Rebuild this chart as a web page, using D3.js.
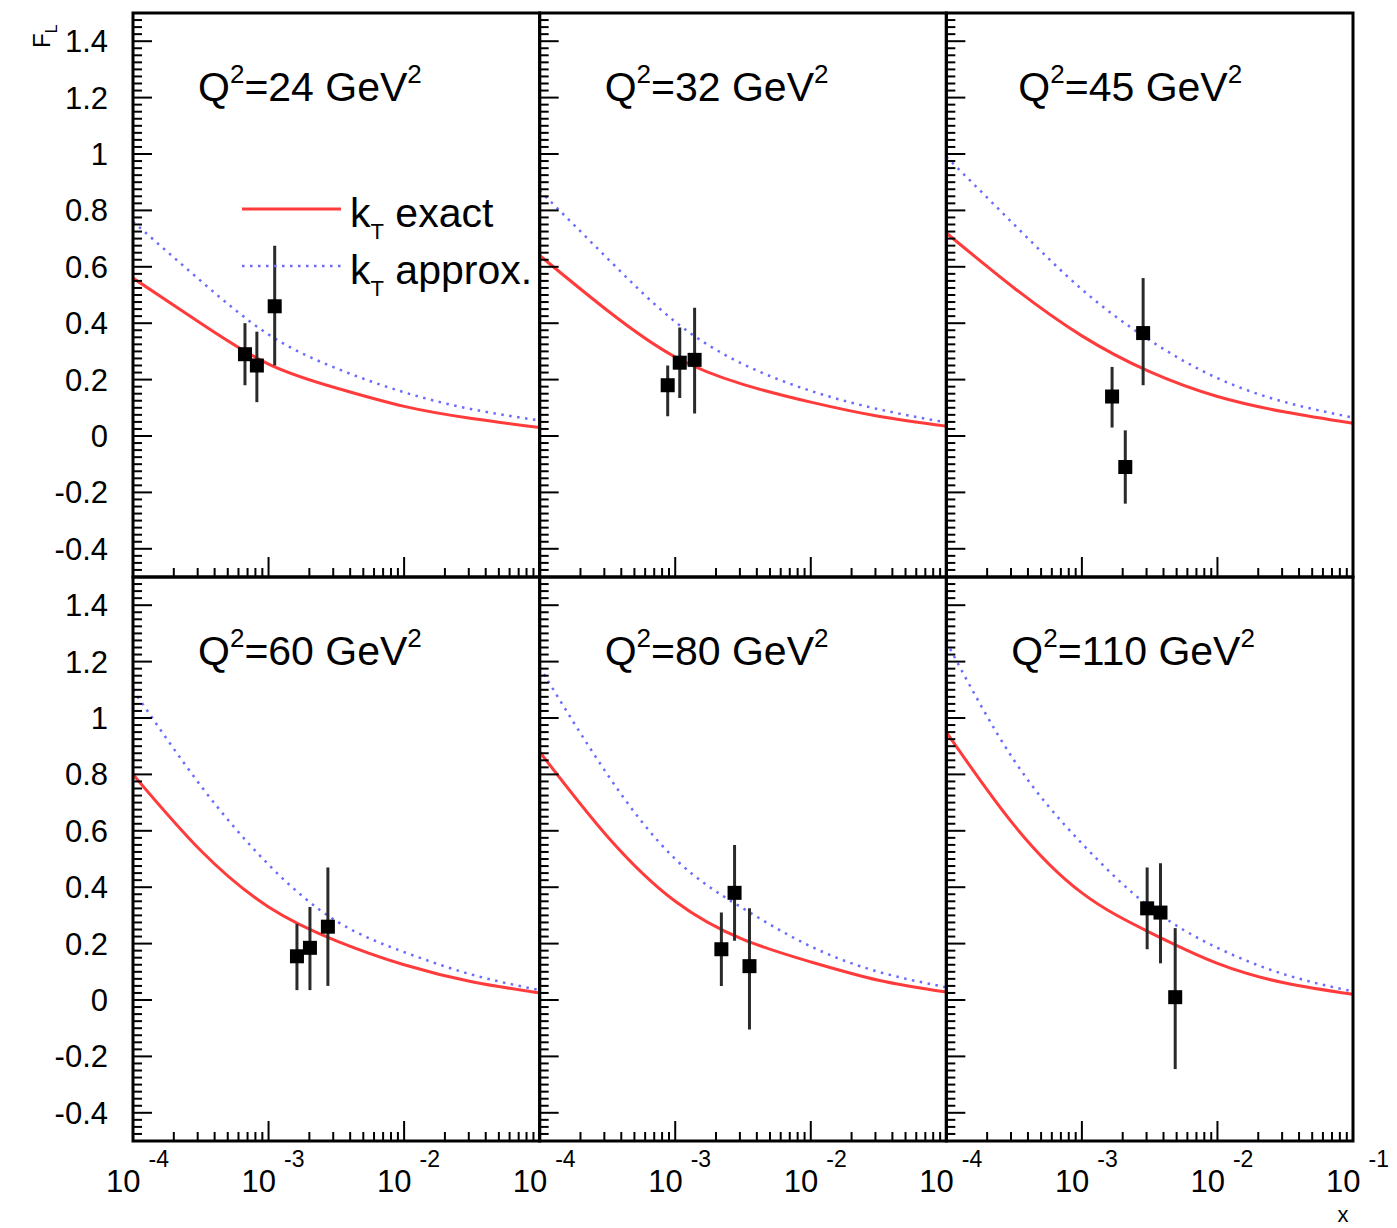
<!DOCTYPE html>
<html>
<head>
<meta charset="utf-8">
<script src="https://cdn.jsdelivr.net/npm/d3@7"></script>
<style>
  body { margin: 0; background: #fff; }
  text { font-family: "Liberation Sans", Arial, sans-serif; }
</style>
</head>
<body>
<div id="chart"></div>
<script>
// Q^2 of each pad (GeV^2)
const q2Values = [24, 32, 45, 60, 80, 110];

const curveX = [1e-4, 3.16e-4, 1e-3, 3.16e-3, 1e-2, 3.16e-2, 1e-1];

// kT exact (red solid)
const exactFL = [
  [0.56, 0.40, 0.255, 0.17, 0.105, 0.062, 0.03],
  [0.64, 0.445, 0.28, 0.183, 0.12, 0.07, 0.035],
  [0.72, 0.525, 0.355, 0.228, 0.14, 0.085, 0.045],
  [0.80, 0.53, 0.33, 0.21, 0.125, 0.065, 0.025],
  [0.88, 0.58, 0.35, 0.215, 0.135, 0.07, 0.028],
  [0.95, 0.62, 0.38, 0.24, 0.13, 0.06, 0.02]
];

// kT approx. (blue dotted)
const approxFL = [
  [0.76, 0.55, 0.36, 0.24, 0.155, 0.095, 0.055],
  [0.87, 0.63, 0.405, 0.255, 0.16, 0.095, 0.048],
  [0.99, 0.75, 0.52, 0.34, 0.205, 0.12, 0.065],
  [1.10, 0.76, 0.48, 0.28, 0.17, 0.09, 0.035],
  [1.18, 0.80, 0.50, 0.325, 0.19, 0.10, 0.045],
  [1.27, 0.85, 0.555, 0.33, 0.185, 0.09, 0.03]
];

// measured points
const dataX = [
  [6.7e-4, 8.2e-4, 1.11e-3],
  [8.8e-4, 1.08e-3, 1.39e-3],
  [1.67e-3, 2.09e-3, 2.83e-3],
  [1.62e-3, 2.02e-3, 2.74e-3],
  [2.19e-3, 2.74e-3, 3.53e-3],
  [3.03e-3, 3.8e-3, 4.88e-3]
];
const dataFL = [
  [0.29, 0.25, 0.46],
  [0.18, 0.26, 0.27],
  [0.14, -0.11, 0.365],
  [0.155, 0.185, 0.26],
  [0.18, 0.38, 0.12],
  [0.325, 0.31, 0.01]
];
const dataLo = [
  [0.18, 0.12, 0.25],
  [0.07, 0.135, 0.08],
  [0.03, -0.24, 0.18],
  [0.035, 0.035, 0.05],
  [0.05, 0.21, -0.105],
  [0.18, 0.13, -0.245]
];
const dataHi = [
  [0.40, 0.37, 0.675],
  [0.25, 0.385, 0.455],
  [0.245, 0.02, 0.56],
  [0.27, 0.33, 0.47],
  [0.31, 0.55, 0.325],
  [0.47, 0.485, 0.255]
];

const yMajor = [-0.4, -0.2, 0, 0.2, 0.4, 0.6, 0.8, 1, 1.2, 1.4];
const yLabels = ["-0.4", "-0.2", "0", "0.2", "0.4", "0.6", "0.8", "1", "1.2", "1.4"];
const xMajor = [1e-4, 1e-3, 1e-2, 1e-1];
const xExp = ["-4", "-3", "-2", "-1"];

const width = 1397, height = 1228;
const padLeft = 133, padTop = 13, padRight = 1353, padBottom = 1141;
const pw = (padRight - padLeft) / 3, ph = (padBottom - padTop) / 2;

const svg = d3.select("#chart").append("svg")
  .attr("width", width)
  .attr("height", height);

svg.append("rect").attr("width", width).attr("height", height).attr("fill", "#fff");

const xScale = d3.scaleLog().domain([1e-4, 1e-1]).range([0, pw]);
const yScale = d3.scaleLinear().domain([-0.5, 1.5]).range([ph, 0]);

const lineGen = d3.line()
  .x(d => xScale(d[0]))
  .y(d => yScale(d[1]))
  .curve(d3.curveNatural);

const yMinor = d3.range(-20, 61).map(i => i * 0.025);
const xMinor = [];
[1e-4, 1e-3, 1e-2].forEach(dec => d3.range(2, 10).forEach(m => xMinor.push(dec * m)));

svg.append("defs").append("clipPath").attr("id", "pad")
  .append("rect").attr("width", pw).attr("height", ph);

q2Values.forEach((q2, i) => {
  const col = i % 3, row = Math.floor(i / 3);
  const g = svg.append("g")
    .attr("transform", `translate(${padLeft + col * pw},${padTop + row * ph})`);

  // curves
  const plot = g.append("g").attr("clip-path", "url(#pad)");
  plot.append("path")
    .datum(curveX.map((x, j) => [x, approxFL[i][j]]))
    .attr("d", lineGen)
    .attr("fill", "none")
    .attr("stroke", "#6b6bff")
    .attr("stroke-width", 2.5)
    .attr("stroke-dasharray", "2.5,5.5");
  plot.append("path")
    .datum(curveX.map((x, j) => [x, exactFL[i][j]]))
    .attr("d", lineGen)
    .attr("fill", "none")
    .attr("stroke", "#ff3b3b")
    .attr("stroke-width", 3);

  // data points
  const pts = dataX[i].map((x, j) => ({ x, y: dataFL[i][j], lo: dataLo[i][j], hi: dataHi[i][j] }));
  plot.selectAll("line.err").data(pts).join("line")
    .attr("class", "err")
    .attr("x1", d => xScale(d.x)).attr("x2", d => xScale(d.x))
    .attr("y1", d => yScale(d.lo)).attr("y2", d => yScale(d.hi))
    .attr("stroke", "#2a2a2a").attr("stroke-width", 3);
  plot.selectAll("rect.pt").data(pts).join("rect")
    .attr("class", "pt")
    .attr("x", d => xScale(d.x) - 7).attr("y", d => yScale(d.y) - 7)
    .attr("width", 14).attr("height", 14)
    .attr("fill", "#000");

  // y ticks on left edge
  g.selectAll("line.ymin").data(yMinor).join("line")
    .attr("class", "ymin")
    .attr("x1", 0).attr("x2", d => yMajor.some(v => Math.abs(v - d) < 1e-6) ? 19 : 9)
    .attr("y1", d => yScale(d)).attr("y2", d => yScale(d))
    .attr("stroke", "#000").attr("stroke-width", 2);

  // x ticks on bottom edge
  g.selectAll("line.xmaj").data(xMajor).join("line")
    .attr("class", "xmaj")
    .attr("x1", d => xScale(d)).attr("x2", d => xScale(d))
    .attr("y1", ph).attr("y2", ph - 20)
    .attr("stroke", "#000").attr("stroke-width", 2);
  g.selectAll("line.xmin").data(xMinor).join("line")
    .attr("class", "xmin")
    .attr("x1", d => xScale(d)).attr("x2", d => xScale(d))
    .attr("y1", ph).attr("y2", ph - 9)
    .attr("stroke", "#000").attr("stroke-width", 2);

  // frame
  g.append("rect")
    .attr("width", pw).attr("height", ph)
    .attr("fill", "none").attr("stroke", "#000").attr("stroke-width", 3);

  // y labels on first column
  if (col === 0) {
    g.selectAll("text.ylab").data(yMajor).join("text")
      .attr("class", "ylab")
      .attr("x", -25).attr("y", d => yScale(d) + 11)
      .attr("text-anchor", "end")
      .attr("font-size", 31)
      .text((d, k) => yLabels[k]);
  }

  // x labels on bottom row
  if (row === 1) {
    const ex = col === 2 ? [0, 1, 2, 3] : [0, 1, 2];
    ex.forEach(k => {
      const t = g.append("text")
        .attr("x", xScale(xMajor[k]) - 27).attr("y", ph + 51)
        .attr("font-size", 31);
      t.append("tspan").text("10");
      t.append("tspan").attr("dx", 8).attr("dy", -25).attr("font-size", 23).text(xExp[k]);
    });
  }

  // pad title
  const title = g.append("text")
    .attr("x", col === 2 && row === 0 ? 72 : 65).attr("y", 88)
    .attr("font-size", 41);
  title.append("tspan").text("Q");
  title.append("tspan").attr("dy", -18).attr("font-size", 26).text("2");
  title.append("tspan").attr("dy", 18).text(`=${q2} GeV`);
  title.append("tspan").attr("dy", -18).attr("font-size", 26).text("2");

  // legend in first pad
  if (i === 0) {
    const leg = [
      { y: 196, label: "exact", color: "#ff3b3b", dash: null, w: 3 },
      { y: 253, label: "approx.", color: "#6b6bff", dash: "2.5,5.5", w: 2.5 }
    ];
    leg.forEach(l => {
      g.append("line")
        .attr("x1", 109).attr("x2", 208)
        .attr("y1", l.y).attr("y2", l.y)
        .attr("stroke", l.color).attr("stroke-width", l.w)
        .attr("stroke-dasharray", l.dash);
      const t = g.append("text")
        .attr("x", 217).attr("y", l.y + 18)
        .attr("font-size", 41);
      t.append("tspan").text("k");
      t.append("tspan").attr("dy", 12).attr("font-size", 22).text("T");
      t.append("tspan").attr("dy", -12).text(" " + l.label);
    });
  }
});

// axis titles
svg.append("text")
  .attr("transform", "translate(50,48) rotate(-90)")
  .attr("font-size", 24)
  .text("F")
  .append("tspan").attr("dy", 7).attr("font-size", 16).text("L");

svg.append("text")
  .attr("x", 1343).attr("y", 1222)
  .attr("text-anchor", "middle")
  .attr("font-size", 22)
  .text("x");
</script>
</body>
</html>
